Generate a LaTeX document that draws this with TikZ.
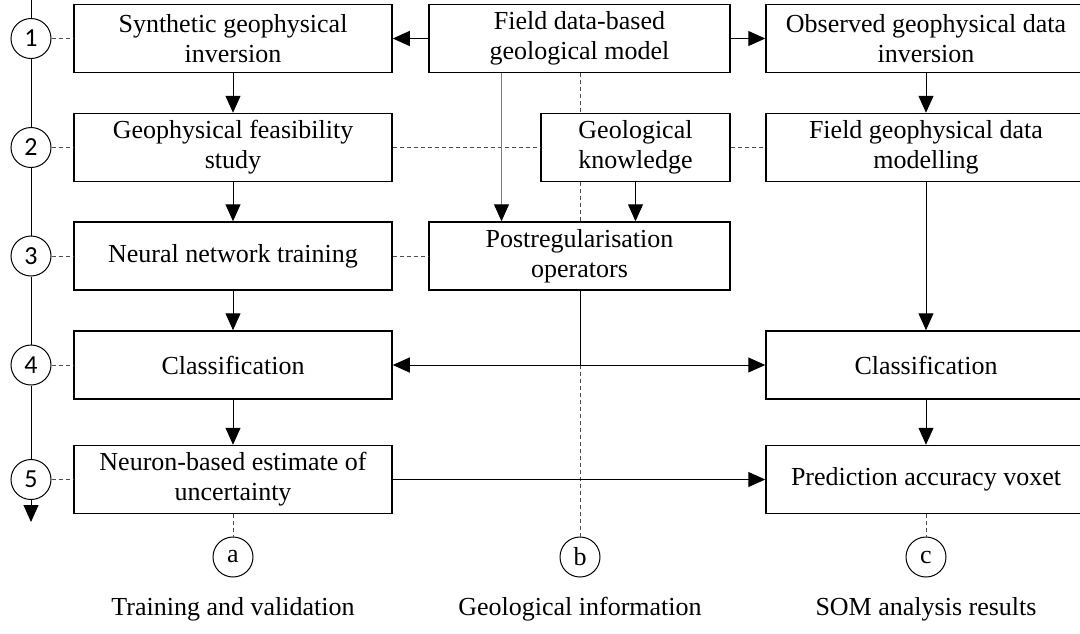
\documentclass[tikz,border=0pt]{standalone}
\usepackage{fontspec}
\setmainfont{Liberation Serif}
\newfontfamily\numfont{Carlito}
\usetikzlibrary{arrows.meta,positioning,calc}
\tikzset{
  stage/.style={draw,rectangle,line width=1.5pt,align=center,
    minimum height=68pt,inner sep=0pt,font=\fontsize{26}{30}\selectfont},
  levelmark/.style={circle,draw,line width=1pt,minimum size=40pt,
    inner sep=0pt,font=\numfont\fontsize{26}{28}\selectfont},
  colmark/.style={circle,draw,line width=1pt,minimum size=40pt,
    inner sep=0pt,font=\fontsize{26}{30}\selectfont},
  caption/.style={font=\fontsize{26}{30}\selectfont},
  flow/.style={-{Triangle[length=17pt,width=15pt,color=black]},line width=1pt},
  guide/.style={dash pattern=on 4pt off 3pt,line width=1pt,draw=gray!60!black},
  axis/.style={line width=1pt}
}
\begin{document}
\begin{tikzpicture}[x=1pt,y=-1pt]
  \useasboundingbox (0,0) rectangle (1080,633);

  % level markers on the axis
  \node[levelmark] (n1) at (31,38.5) {1};
  \node[levelmark] (n2) at (31,147.5) {2};
  \node[levelmark] (n3) at (31,256) {3};
  \node[levelmark] (n4) at (31,365) {4};
  \node[levelmark] (n5) at (31,479.5) {5};
  \coordinate (top) at (31,0);
  \coordinate (bottom) at (31,522);

  % training and validation
  \node[stage,minimum width=318pt] (syn) at (233,38.5) {Synthetic geophysical\\inversion};
  \node[stage,minimum width=318pt] (feas) at (233,147.5) {Geophysical feasibility\\study};
  \node[stage,minimum width=318pt] (train) at (233,256) {Neural network training};
  \node[stage,minimum width=318pt] (clsa) at (233,365) {Classification};
  \node[stage,minimum width=318pt] (unc) at (233,479.5) {Neuron-based estimate of\\uncertainty};

  % geological information
  \node[stage,minimum width=301pt] (geomod) at (579.5,38.5) {Field data-based\\geological model};
  \node[stage,minimum width=189pt] (know) at (635.5,147.5) {Geological\\knowledge};
  \node[stage,minimum width=301pt] (postreg) at (579.5,256) {Postregularisation\\operators};

  % SOM analysis results
  \node[stage,minimum width=320pt] (obs) at (926,38.5) {Observed geophysical data\\inversion};
  \node[stage,minimum width=320pt] (fmod) at (926,147.5) {Field geophysical data\\modelling};
  \node[stage,minimum width=320pt] (clsc) at (926,365) {Classification};
  \node[stage,minimum width=320pt] (pred) at (926,479.5) {Prediction accuracy voxet};

  % column markers
  \node[colmark] (a) at (233,557) {a};
  \node[colmark] (b) at (580,557) {b};
  \node[colmark] (c) at (926,557) {c};
  \node[caption] (capa) at (233,609) {Training and validation};
  \node[caption] (capb) at (580,609) {Geological information};
  \node[caption] (capc) at (926,609) {SOM analysis results};

  \coordinate (hub) at (580,365);

  % axis
  \draw[axis] (top) -- (n1) (n1) -- (n2) (n2) -- (n3) (n3) -- (n4) (n4) -- (n5);
  \draw[axis,-{Triangle[length=17pt,width=15pt]}] (n5) -- (bottom);

  % guides
  \path[guide]
    (n1) edge (syn) (n2) edge (feas) (n3) edge (train)
    (n4) edge (clsa) (n5) edge (unc)
    (feas) edge (know) (know) edge (fmod) (train) edge (postreg)
    (unc) edge (a) (pred) edge (c) (hub) edge (b)
    (geomod.south -| hub) edge (know.north -| hub)
    (know.south -| hub) edge (postreg.north -| hub);

  % flows
  \path[flow]
    (geomod) edge (syn)
    (geomod) edge (obs)
    (syn) edge (feas)
    (feas) edge (train)
    (train) edge (clsa)
    (clsa) edge (unc)
    (obs) edge (fmod)
    (fmod) edge (clsc)
    (clsc) edge (pred)
    (unc) edge (pred)
    (know.south) edge (postreg.north -| know.south)
    (hub) edge (clsa)
    (hub) edge (clsc);
  \draw[flow,draw=gray] ([xshift=-78pt]geomod.south) -- ([xshift=-78pt]postreg.north);
  \draw[line width=1pt] (postreg.south -| hub) -- (hub);
\end{tikzpicture}
\end{document}
